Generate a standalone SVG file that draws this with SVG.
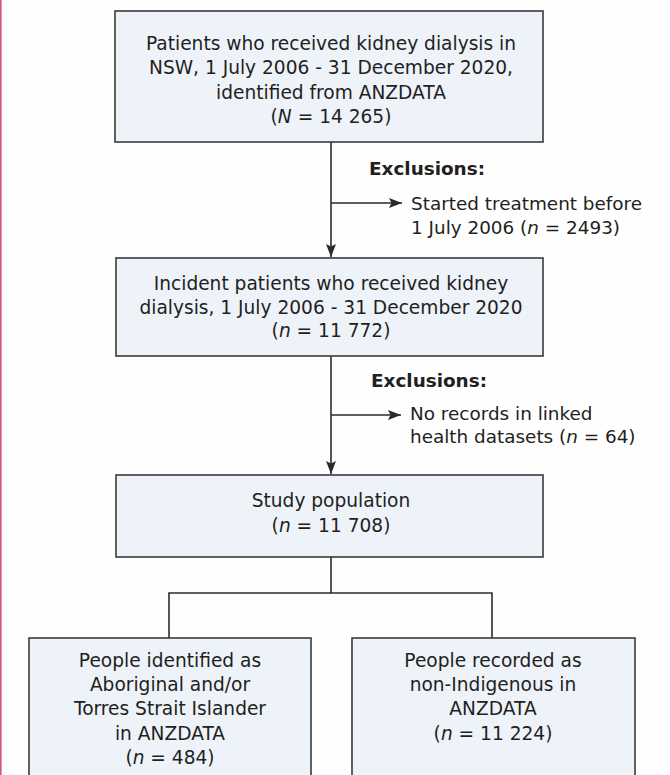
<svg xmlns="http://www.w3.org/2000/svg" width="670" height="775" viewBox="0 0 670 775">
<style>
.box{fill:#eef3fa;stroke:#3a3a3a;stroke-width:1.6}
.t{font-family:"DejaVu Sans",sans-serif;font-size:18.6px;fill:#231f20;text-anchor:middle}
.l{font-family:"DejaVu Sans",sans-serif;font-size:18.4px;fill:#231f20}
.b{font-weight:bold}
.i{font-style:italic}
.c{fill:none;stroke:#2b2b2b;stroke-width:1.6}
</style>
<defs>
<marker id="ah" viewBox="0 0 13 11" refX="13" refY="5.5" markerWidth="13" markerHeight="11" markerUnits="userSpaceOnUse" orient="auto">
<path d="M0,0.5 L13,5.5 L0,10.5 L2.5,5.5 Z" fill="#2b2b2b"/>
</marker>
</defs>
<rect width="670" height="775" fill="#fefefe"/>
<rect x="0" y="0" width="1.6" height="775" fill="#d4567c"/>
<g id="connectors">
<line class="c" x1="331" y1="142" x2="331" y2="257" marker-end="url(#ah)"/>
<line class="c" x1="331" y1="203" x2="402" y2="203" marker-end="url(#ah)"/>
<line class="c" x1="331" y1="356" x2="331" y2="474" marker-end="url(#ah)"/>
<line class="c" x1="331" y1="415" x2="401" y2="415" marker-end="url(#ah)"/>
<polyline class="c" points="331,557 331,593"/>
<polyline class="c" points="169,638 169,593 492,593 492,638"/>
</g>
<g id="n1">
<rect class="box" x="115" y="11" width="428" height="131"/>
<text class="t" x="331" y="49.5">Patients who received kidney dialysis in</text>
<text class="t" x="331" y="74">NSW, 1 July 2006 - 31 December 2020,</text>
<text class="t" x="331" y="98.5">identified from ANZDATA</text>
<text class="t" x="331" y="123">(<tspan class="i">N</tspan> = 14 265)</text>
</g>
<g id="ex1">
<text class="l b" x="369" y="175">Exclusions:</text>
<text class="l" x="411" y="209.5">Started treatment before</text>
<text class="l" x="411" y="233.5">1 July 2006 (<tspan class="i">n</tspan> = 2493)</text>
</g>
<g id="n2">
<rect class="box" x="116" y="258" width="427" height="98"/>
<text class="t" x="331" y="289.5">Incident patients who received kidney</text>
<text class="t" x="331" y="313.5">dialysis, 1 July 2006 - 31 December 2020</text>
<text class="t" x="331" y="337">(<tspan class="i">n</tspan> = 11 772)</text>
</g>
<g id="ex2">
<text class="l b" x="371" y="386.5">Exclusions:</text>
<text class="l" x="410" y="419.5">No records in linked</text>
<text class="l" x="410" y="442.5">health datasets (<tspan class="i">n</tspan> = 64)</text>
</g>
<g id="n3">
<rect class="box" x="116" y="475" width="427" height="82"/>
<text class="t" x="331" y="506.5">Study population</text>
<text class="t" x="331" y="531.5">(<tspan class="i">n</tspan> = 11 708)</text>
</g>
<g id="n4">
<rect class="box" x="29" y="638" width="282" height="160"/>
<text class="t" x="170" y="666.5">People identified as</text>
<text class="t" x="170" y="690.5">Aboriginal and/or</text>
<text class="t" x="170" y="715">Torres Strait Islander</text>
<text class="t" x="170" y="740">in ANZDATA</text>
<text class="t" x="170" y="763.5">(<tspan class="i">n</tspan> = 484)</text>
</g>
<g id="n5">
<rect class="box" x="352" y="638" width="283" height="160"/>
<text class="t" x="493" y="666.5">People recorded as</text>
<text class="t" x="493" y="690.5">non-Indigenous in</text>
<text class="t" x="493" y="715">ANZDATA</text>
<text class="t" x="493" y="740">(<tspan class="i">n</tspan> = 11 224)</text>
</g>
</svg>
